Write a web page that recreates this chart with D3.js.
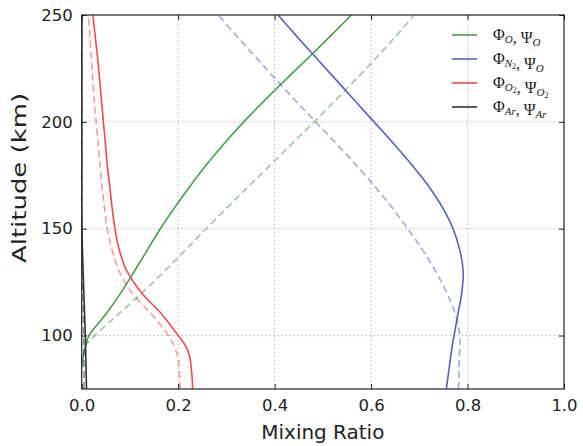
<!DOCTYPE html>
<html lang="en">
<head>
<meta charset="utf-8">
<title>mixing ratio</title>
<script src="https://d3js.org/d3.v7.min.js"></script>
<style>
	body{ margin:0; background:#fff; }
	svg text{ font-family:"DejaVu Sans", sans-serif; fill:#222; }
	.leg text{ font-family:"Liberation Serif", "DejaVu Serif", serif; }
</style>
</head>
<body>
<div id="chart"></div>
<script>
// altitude grid (km), shared by every profile
let alts = [75, 80, 85, 90, 95, 100, 110, 120, 130, 140, 150, 160, 170, 180, 190, 200, 210, 220, 230, 240, 250];

// O
let phiO = [null, null, 0.0, 0.003, 0.008, 0.015, 0.050, 0.081, 0.109, 0.136, 0.163, 0.193, 0.225, 0.259, 0.296, 0.336, 0.379, 0.424, 0.470, 0.515, 0.559];
let psiO = [null, null, null, null, 0.006, 0.027, 0.076, 0.125, 0.171, 0.215, 0.258, 0.302, 0.347, 0.392, 0.437, 0.482, 0.526, 0.569, 0.611, 0.651, 0.690];
// N2
let phiN2 = [0.756, 0.759, 0.762, 0.765, 0.768, 0.772, 0.780, 0.788, 0.791, 0.784, 0.770, 0.748, 0.719, 0.684, 0.646, 0.606, 0.566, 0.526, 0.486, 0.446, 0.407];
let psiN2 = [0.781, 0.782, 0.782, 0.783, 0.784, 0.784, 0.775, 0.757, 0.734, 0.707, 0.676, 0.643, 0.607, 0.568, 0.527, 0.485, 0.443, 0.402, 0.362, 0.322, 0.283];
// O2
let phiO2 = [0.230, 0.229, 0.227, 0.224, 0.216, 0.200, 0.166, 0.124, 0.094, 0.078, 0.069, 0.063, 0.058, 0.053, 0.049, 0.045, 0.041, 0.037, 0.033, 0.028, 0.023];
let psiO2 = [0.204, 0.203, 0.202, 0.199, 0.192, 0.180, 0.145, 0.104, 0.078, 0.063, 0.053, 0.047, 0.042, 0.038, 0.034, 0.030, 0.026, 0.023, 0.020, 0.017, 0.014];
// Ar
let phiAr = [0.010, 0.0095, 0.009, 0.0085, 0.008, 0.0075, 0.006, 0.0045, 0.003, 0.0015, 0.0005, 0.0, 0.0, 0.0, 0.0, 0.0, 0.0, 0.0, 0.0, 0.0, 0.0];
let psiAr = [0.005, 0.005, 0.0048, 0.0045, 0.0042, 0.004, 0.0032, 0.0024, 0.0016, 0.0008, 0.0002, 0.0, 0.0, 0.0, 0.0, 0.0, 0.0, 0.0, 0.0, 0.0, 0.0];

let xTicks = [0.0, 0.2, 0.4, 0.6, 0.8, 1.0];
let yTicks = [100, 150, 200, 250];

let species = [
	{ name:"O",  sub:["O","O"],   color:"#43a143", phi:phiO,  psi:psiO },
	{ name:"N2", sub:["N2","O"],  color:"#5262c6", phi:phiN2, psi:psiN2 },
	{ name:"O2", sub:["O2","O2"], color:"#ef4c4c", phi:phiO2, psi:psiO2 },
	{ name:"Ar", sub:["Ar","Ar"], color:"#333333", phi:phiAr, psi:psiAr }
];

let W = 583, H = 446;
let m = { left:81.7, right:19, top:15, bottom:57 };

let svg = d3.select("#chart").append("svg").attr("width", W).attr("height", H);

let x = d3.scaleLinear().domain([0, 1]).range([m.left, W - m.right]);
let y = d3.scaleLinear().domain([75, 250]).range([H - m.bottom, m.top]);

// grid
let grid = svg.append("g").attr("stroke", "#a8a8a8").attr("stroke-dasharray", "1.2,2.8").attr("stroke-width", 1);
grid.selectAll(".gx").data(xTicks.slice(1, -1)).enter().append("line")
	.attr("x1", d => x(d)).attr("x2", d => x(d)).attr("y1", y(75)).attr("y2", y(250));
grid.selectAll(".gy").data(yTicks.slice(0, -1)).enter().append("line")
	.attr("x1", x(0)).attr("x2", x(1)).attr("y1", d => y(d)).attr("y2", d => y(d));

// curves
svg.append("clipPath").attr("id", "clip").append("rect")
	.attr("x", x(0)).attr("y", y(250)).attr("width", x(1) - x(0)).attr("height", y(75) - y(250));

let line = d3.line()
	.defined(d => d[1] != null)
	.x(d => x(d[1]))
	.y(d => y(d[0]))
	.curve(d3.curveCatmullRom.alpha(0.5));

let plot = svg.append("g").attr("clip-path", "url(#clip)");
species.forEach((s) => {
	plot.append("path")
		.attr("d", line(alts.map((a, i) => [a, s.psi[i]])))
		.attr("fill", "none").attr("stroke", s.color).attr("stroke-opacity", 0.55)
		.attr("stroke-width", 1.6).attr("stroke-dasharray", "7,4");
	plot.append("path")
		.attr("d", line(alts.map((a, i) => [a, s.phi[i]])))
		.attr("fill", "none").attr("stroke", s.color)
		.attr("stroke-width", 1.6);
});

// axes
let xAxis = d3.axisBottom(x).tickValues(xTicks).tickFormat(d3.format(".1f")).tickSize(-5).tickPadding(10);
let yAxis = d3.axisLeft(y).tickValues(yTicks).tickSize(-5).tickPadding(9);
let gx = svg.append("g").attr("transform", "translate(0," + y(75) + ")").call(xAxis);
let gy = svg.append("g").attr("transform", "translate(" + x(0) + ",0)").call(yAxis);
[gx, gy].forEach(g => {
	g.select(".domain").remove();
	g.selectAll("line").attr("stroke", "#222");
	g.selectAll("text").attr("font-size", 16.5).attr("fill", "#222");
});
// ticks on top and right
svg.append("g").attr("transform", "translate(0," + y(250) + ")").call(d3.axisTop(x).tickValues(xTicks).tickSize(-5).tickFormat(""))
	.call(g => { g.select(".domain").remove(); g.selectAll("line").attr("stroke", "#222"); });
svg.append("g").attr("transform", "translate(" + x(1) + ",0)").call(d3.axisRight(y).tickValues(yTicks).tickSize(-5).tickFormat(""))
	.call(g => { g.select(".domain").remove(); g.selectAll("line").attr("stroke", "#222"); });

svg.append("rect").attr("x", x(0)).attr("y", y(250)).attr("width", x(1) - x(0)).attr("height", y(75) - y(250))
	.attr("fill", "none").attr("stroke", "#222").attr("stroke-width", 1.2);

// axis labels
svg.append("text").attr("x", (x(0) + x(1)) / 2).attr("y", 439).attr("text-anchor", "middle")
	.attr("font-size", 19).attr("textLength", 123).attr("lengthAdjust", "spacingAndGlyphs").text("Mixing Ratio");
svg.append("text").attr("transform", "translate(26,178) rotate(-90)")
	.attr("text-anchor", "middle").attr("font-size", 20).attr("textLength", 170).attr("lengthAdjust", "spacingAndGlyphs")
	.text("Altitude (km)");

// legend
let leg = svg.append("g").attr("class", "leg");
species.forEach((s, i) => {
	let ly = 35 + i * 24;
	leg.append("line").attr("x1", 452).attr("x2", 477).attr("y1", ly).attr("y2", ly)
		.attr("stroke", s.color).attr("stroke-width", 1.6);
	let t = leg.append("text").attr("x", 493).attr("y", ly + 5).attr("font-size", 16);
	s.sub.forEach((sb, k) => {
		t.append("tspan").text(k == 0 ? "\u03A6" : ", \u03A8");
		let base = sb.replace("2", "");
		t.append("tspan").attr("font-style", "italic").attr("font-size", 11).attr("dy", 3).text(base);
		if (sb.indexOf("2") >= 0) {
			t.append("tspan").attr("font-size", 8).attr("dy", 2).text("2");
			t.append("tspan").attr("dy", -5).text("");
		} else {
			t.append("tspan").attr("dy", -3).text("");
		}
	});
});
</script>
</body>
</html>
